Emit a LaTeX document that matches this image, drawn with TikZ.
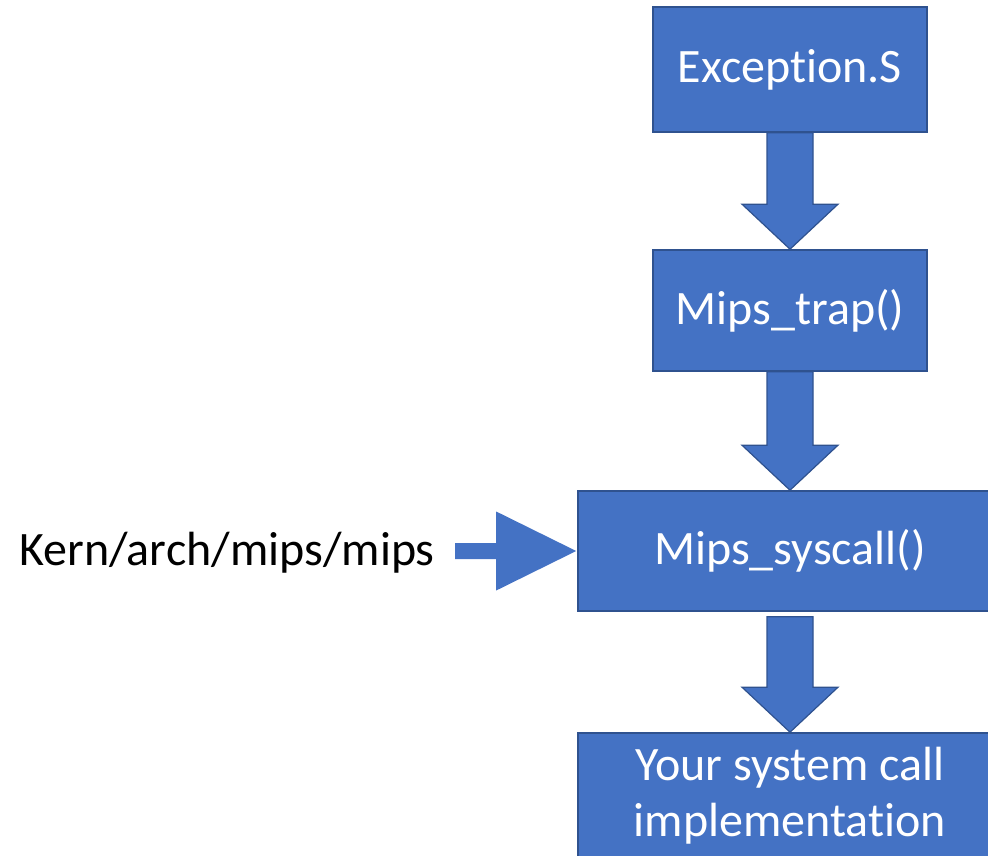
\documentclass[tikz,border=0pt]{standalone}
\usepackage{fontspec}
\setmainfont[Ligatures={NoCommon}]{Carlito}
\usetikzlibrary{calc}
\definecolor{boxfill}{HTML}{4472C4}
\definecolor{boxline}{HTML}{2F528F}
\newcommand\blockdown[3]{%
  \draw[barrow] ($(#1.south)+(-23,#3)$) -- ($(#2.north)+(-23,-45)$) -- ($(#2.north)+(-48,-45)$) -- (#2.north)
   -- ($(#2.north)+(48,-45)$) -- ($(#2.north)+(23,-45)$) -- ($(#1.south)+(23,#3)$) -- cycle;}
\begin{document}
\begin{tikzpicture}[x=1pt,y=-1pt,
  box/.style={draw=boxline, fill=boxfill, line width=1.6pt, text=white,
    font=\fontsize{48}{56}\selectfont, align=center, inner sep=0pt},
  barrow/.style={draw=boxline, fill=boxfill, line width=1.2pt, line join=miter},
  lbl/.style={font=\fontsize{48}{56}\selectfont, inner sep=0pt}]
\clip (0,0) rectangle (988,856);
\node[box, minimum width=274pt, minimum height=125pt] (exc) at (790,69.5) {Exception.S};
\node[box, minimum width=274pt, minimum height=121pt] (trap) at (790,310.5) {Mips\_trap()};
\node[box, minimum width=424pt, minimum height=120pt] (sys) at (790,551) {Mips\_syscall()};
\node[box, minimum width=424pt, minimum height=125pt] (impl) at (790,795.5) {Your system call\\implementation};
\node[lbl, anchor=east] (kern) at (435,553) {Kern/arch/mips/mips};
\blockdown{exc}{trap}{0}
\blockdown{trap}{sys}{0}
\blockdown{sys}{impl}{5}
\fill[boxfill] ($(kern.east |- sys.west)+(20,-8)$) -- ($(sys.west)+(-81,-8)$) -- ($(sys.west)+(-81,-39.5)$)
  -- ($(sys.west)+(-1,0)$) -- ($(sys.west)+(-81,39.5)$) -- ($(sys.west)+(-81,8)$)
  -- ($(kern.east |- sys.west)+(20,8)$) -- cycle;
\end{tikzpicture}
\end{document}
